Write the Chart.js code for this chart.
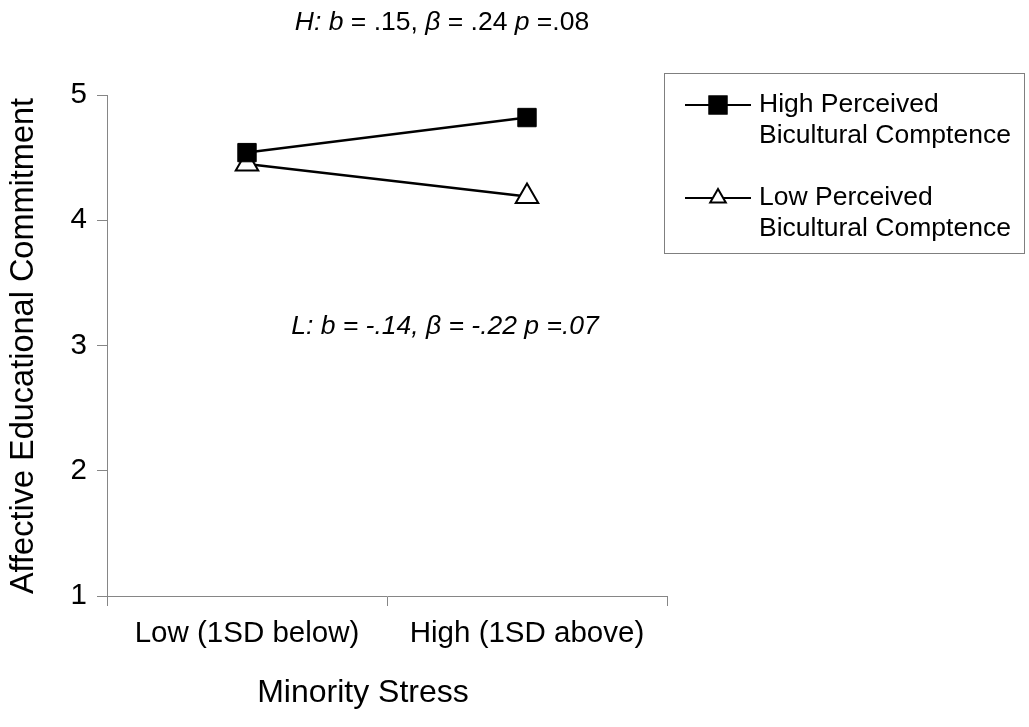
<!DOCTYPE html>
<html>
<head>
<meta charset="utf-8">
<script src="https://cdn.jsdelivr.net/npm/chart.js@4.4.0/dist/chart.umd.min.js"></script>
<style>
  html, body { margin: 0; padding: 0; background: #fff; }
  #wrap { width: 1029px; height: 727px; }
</style>
</head>
<body>
<div id="wrap"><canvas id="chart" width="1029" height="727"></canvas></div>
<script>
// data
const categories = ['Low (1SD below)', 'High (1SD above)'];
const highValues = [4.54, 4.82];
const lowValues  = [4.45, 4.19];
const yTicks = [1, 2, 3, 4, 5];
const highName = ['High Perceived', 'Bicultural Comptence'];
const lowName  = ['Low Perceived', 'Bicultural Comptence'];
const xTitle = 'Minority Stress';
const yTitle = 'Affective Educational Commitment';
// [text, italic]
const noteHigh = [['H: b', true], [' = .15, ', false], ['β', true], [' = .24 ', false], ['p', true], [' =.08', false]];
const noteLow  = [['L: b = -.14, β = -.22 p =.07', true]];

const FONT = "'Liberation Sans', Arial, sans-serif";
const AXIS = '#868686';

function drawMarker(ctx, style, x, y, r, bw) {
  ctx.save();
  ctx.strokeStyle = '#000';
  ctx.lineWidth = bw;
  if (style === 'rect') {
    const s = r * Math.SQRT1_2;
    ctx.fillStyle = '#000';
    ctx.fillRect(x - s, y - s, 2 * s, 2 * s);
    ctx.strokeRect(x - s, y - s, 2 * s, 2 * s);
  } else {
    ctx.fillStyle = '#fff';
    ctx.beginPath();
    ctx.moveTo(x, y - r);
    ctx.lineTo(x + r * Math.sin(Math.PI * 2 / 3), y + r * 0.5);
    ctx.lineTo(x - r * Math.sin(Math.PI * 2 / 3), y + r * 0.5);
    ctx.closePath();
    ctx.fill();
    ctx.stroke();
  }
  ctx.restore();
}

function drawNote(ctx, parts, cx, cy, size) {
  ctx.save();
  ctx.textBaseline = 'middle';
  ctx.textAlign = 'left';
  ctx.fillStyle = '#000';
  let total = 0;
  parts.forEach(p => {
    ctx.font = (p[1] ? 'italic ' : '') + size + 'px ' + FONT;
    total += ctx.measureText(p[0]).width;
  });
  let x = cx - total / 2;
  parts.forEach(p => {
    ctx.font = (p[1] ? 'italic ' : '') + size + 'px ' + FONT;
    ctx.fillText(p[0], x, cy);
    x += ctx.measureText(p[0]).width;
  });
  ctx.restore();
}

const extras = {
  id: 'extras',
  afterDraw(chart) {
    const ctx = chart.ctx;
    const area = chart.chartArea;

    // axis titles
    ctx.save();
    ctx.fillStyle = '#000';
    ctx.font = '32px ' + FONT;
    ctx.textAlign = 'center';
    ctx.textBaseline = 'middle';
    ctx.fillText(xTitle, area.left + 256, 693);
    ctx.font = '32.5px ' + FONT;
    ctx.translate(24, 346);
    ctx.rotate(-Math.PI / 2);
    ctx.fillText(yTitle, 0, 0);
    ctx.restore();

    // notes
    drawNote(ctx, noteHigh, 442, 23, 26.5);
    drawNote(ctx, noteLow, 445, 327, 26.5);

    // legend box
    ctx.save();
    ctx.strokeStyle = '#7f7f7f';
    ctx.lineWidth = 1;
    ctx.strokeRect(664.5, 73.5, 360, 180);
    const items = [
      { ds: chart.data.datasets[0], name: highName, y: 105, r: 13 },
      { ds: chart.data.datasets[1], name: lowName, y: 198, r: 9 }
    ];
    items.forEach(it => {
      ctx.strokeStyle = '#000';
      ctx.lineWidth = 2;
      ctx.beginPath();
      ctx.moveTo(685, it.y);
      ctx.lineTo(751, it.y);
      ctx.stroke();
      drawMarker(ctx, it.ds.pointStyle, 718, it.y, it.r, it.ds.pointBorderWidth);
      ctx.fillStyle = '#000';
      ctx.font = '26.5px ' + FONT;
      ctx.textAlign = 'left';
      ctx.textBaseline = 'middle';
      it.name.forEach((line, i) => ctx.fillText(line, 759, it.y + i * 31));
    });
    ctx.restore();
  }
};

new Chart(document.getElementById('chart'), {
  type: 'line',
  data: {
    labels: categories,
    datasets: [
      {
        label: highName.join(' '),
        data: highValues,
        borderColor: '#000',
        borderWidth: 2.5,
        pointStyle: 'rect',
        pointRadius: 13,
        pointBackgroundColor: '#000',
        pointBorderColor: '#000',
        pointBorderWidth: 1
      },
      {
        label: lowName.join(' '),
        data: lowValues,
        borderColor: '#000',
        borderWidth: 2.5,
        pointStyle: 'triangle',
        pointRadius: 13,
        pointBackgroundColor: '#fff',
        pointBorderColor: '#000',
        pointBorderWidth: 2
      }
    ]
  },
  options: {
    responsive: false,
    animation: false,
    devicePixelRatio: 1,
    layout: { padding: { top: 95, right: 362, left: 0, bottom: 0 } },
    plugins: {
      legend: { display: false },
      tooltip: { enabled: false }
    },
    scales: {
      x: {
        type: 'category',
        offset: true,
        grid: { offset: true, drawOnChartArea: false, color: AXIS, tickLength: 10 },
        border: { color: AXIS, width: 1 },
        ticks: { color: '#000', font: { family: FONT, size: 29.5 }, padding: 10, maxRotation: 0 },
        afterFit(s) { s.height = 131; }
      },
      y: {
        min: 1,
        max: 5,
        afterBuildTicks(s) { s.ticks = yTicks.map(v => ({ value: v })); },
        grid: { drawOnChartArea: false, color: AXIS, tickLength: 10 },
        border: { color: AXIS, width: 1 },
        ticks: { color: '#000', font: { family: FONT, size: 29.5 }, padding: 10 },
        afterFit(s) { s.width = 107; }
      }
    }
  },
  plugins: [extras]
});
</script>
</body>
</html>
